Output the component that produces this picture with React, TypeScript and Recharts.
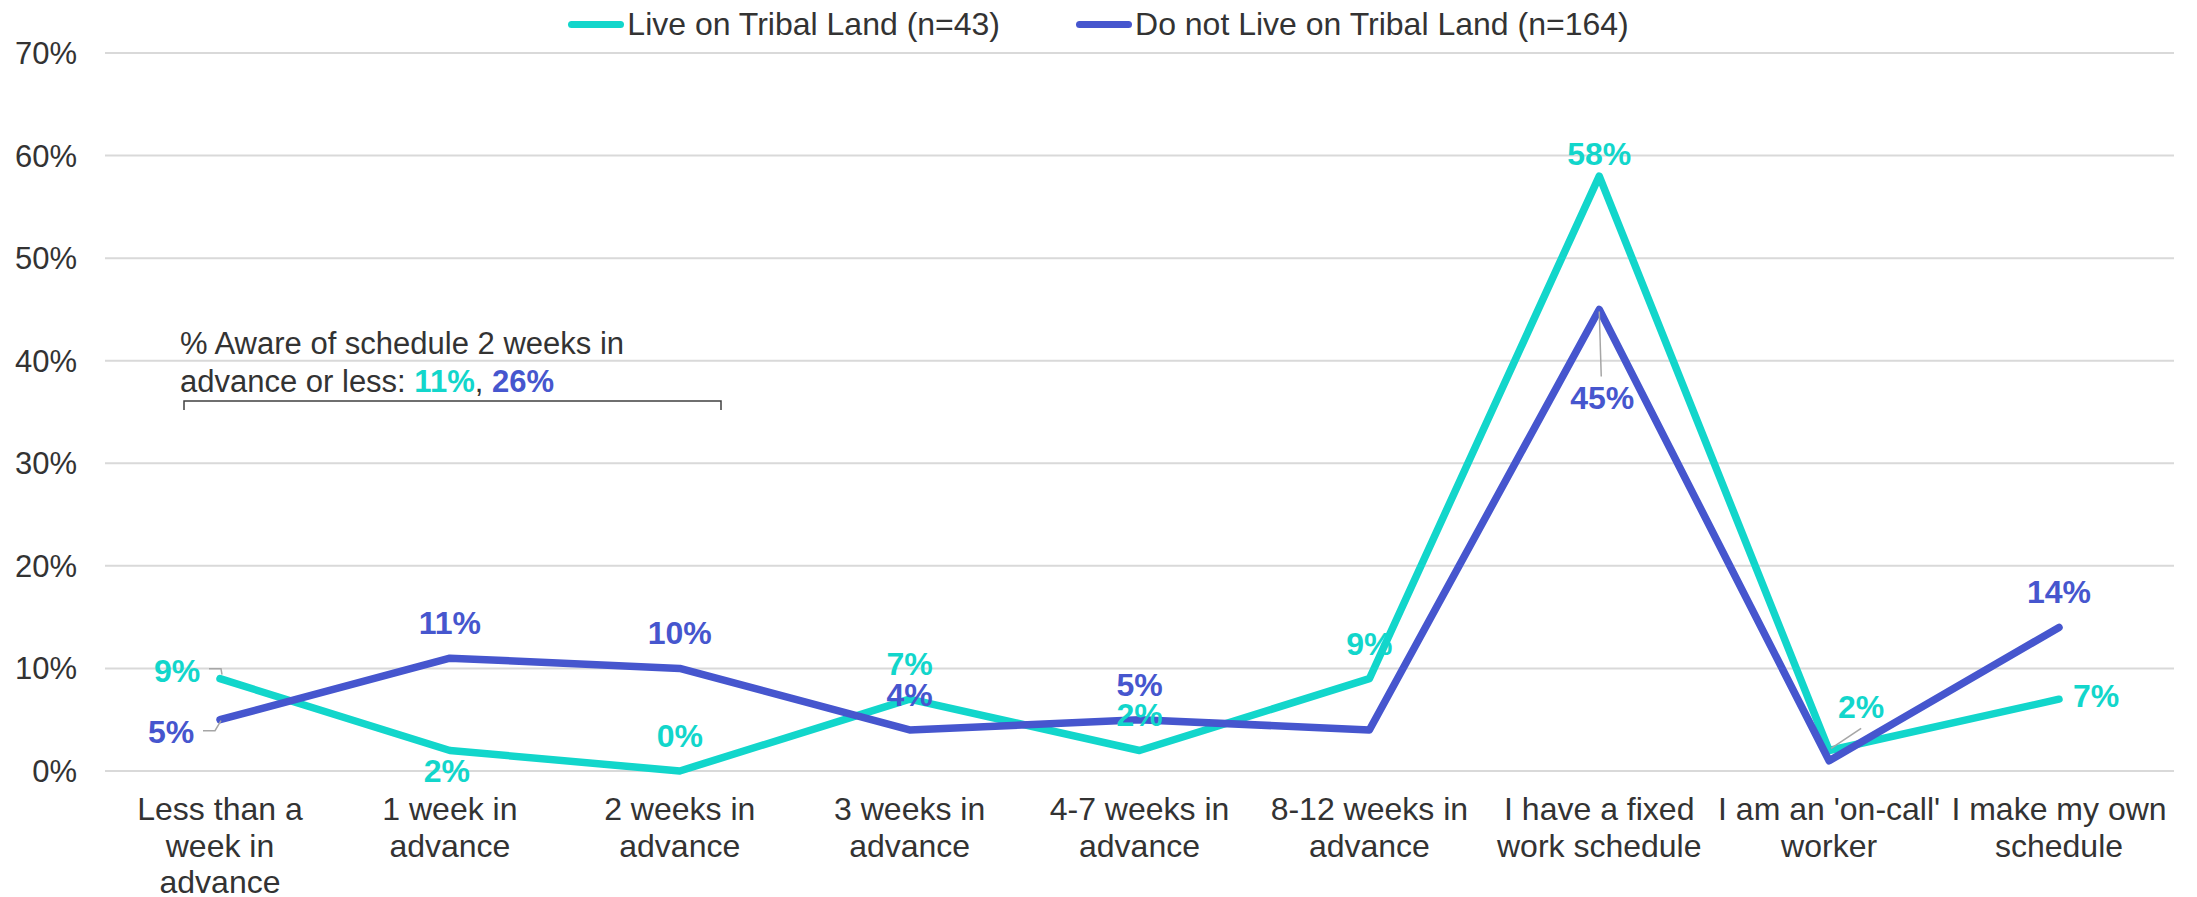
import React from 'react';
import { LineChart, Line, XAxis, YAxis, CartesianGrid, LabelList, Customized } from 'recharts';

const categories = [
  'Less than a\nweek in\nadvance',
  '1 week in\nadvance',
  '2 weeks in\nadvance',
  '3 weeks in\nadvance',
  '4-7 weeks in\nadvance',
  '8-12 weeks in\nadvance',
  'I have a fixed\nwork schedule',
  "I am an 'on-call'\nworker",
  'I make my own\nschedule',
];
const liveOnTribal = [9, 2, 0, 7, 2, 9, 58, 2, 7];
const notOnTribal = [5, 11, 10, 4, 5, 4, 45, 1, 14];
const yTicks = [0, 10, 20, 30, 40, 50, 60, 70];

const seriesNames = ['Live on Tribal Land (n=43)', 'Do not Live on Tribal Land (n=164)'];
const TEAL = '#12d6cb';
const BLUE = '#4656ce';
const TEXT = '#333333';
const FONT = '"Liberation Sans", Arial, sans-serif';

// where each data label sits relative to its point
const liveLabelPos = ['left', 'below', 'above', 'above', 'above', 'above', 'peak', 'upright', 'right'];
const notLabelPos = ['leftdown', 'above', 'above', 'above', 'above', null, 'belowleader', null, 'above'];

const data = categories.map((c, i) => ({
  name: c,
  live: liveOnTribal[i],
  notLive: notOnTribal[i],
}));

const placements: Record<string, { dx: number; dy: number; leader?: number[][] }> = {
  above: { dx: 0, dy: -35 },
  below: { dx: -3, dy: 21 },
  peak: { dx: 0, dy: -22 },
  left: { dx: -43, dy: -8, leader: [[-11, -10], [1, -10], [2, -4]] },
  leftdown: { dx: -49, dy: 12, leader: [[-17, 11], [-5, 11], [1, 1]] },
  upright: { dx: 32, dy: -43, leader: [[2, -2], [32, -22]] },
  right: { dx: 37, dy: -3 },
  belowleader: { dx: 3, dy: 89, leader: [[0, 2], [2, 67]] },
};

const makeLabel = (positions: (string | null)[], color: string) => (props: any) => {
  const { x, y, value, index } = props;
  const pos = positions[index];
  if (!pos) return null;
  const p = placements[pos];
  return (
    <g>
      {p.leader && (
        <polyline
          points={p.leader.map(([a, b]) => `${x + a},${y + b}`).join(' ')}
          fill="none"
          stroke="#a6a6a6"
          strokeWidth={1.5}
        />
      )}
      <text
        x={x + p.dx}
        y={y + p.dy}
        textAnchor="middle"
        dominantBaseline="central"
        fill={color}
        fontSize={32}
        fontWeight="bold"
        fontFamily={FONT}
      >
        {value}%
      </text>
    </g>
  );
};

const CategoryTick = (props: any) => {
  const { x, y, payload } = props;
  const lines = String(payload.value).split('\n');
  return (
    <text x={x} y={y} textAnchor="middle" fill={TEXT} fontSize={32} fontFamily={FONT}>
      {lines.map((l, i) => (
        <tspan key={i} x={x} dy={i === 0 ? 41 : 36.5}>
          {l}
        </tspan>
      ))}
    </text>
  );
};

const Annotation = () => (
  <g fontFamily={FONT} fontSize={31} fill={TEXT}>
    <text x={180} y={354}>% Aware of schedule 2 weeks in</text>
    <text x={180} y={392}>
      advance or less: <tspan fill={TEAL} fontWeight="bold">11%</tspan>,{' '}
      <tspan fill={BLUE} fontWeight="bold">26%</tspan>
    </text>
    <polyline points="184,410 184,401 721,401 721,410" fill="none" stroke="#404040" strokeWidth={1.5} />
  </g>
);

export default function App() {
  return (
    <div style={{ position: 'relative', width: 2197, height: 897, background: '#fff' }}>
      <style>{'body{margin:0}'}</style>
      <div
        style={{
          position: 'absolute',
          top: 0,
          left: 0,
          width: 2197,
          height: 48,
          display: 'flex',
          justifyContent: 'center',
          alignItems: 'center',
          gap: 76,
          fontFamily: FONT,
          fontSize: 32,
          color: TEXT,
          zIndex: 2,
        }}
      >
        {[TEAL, BLUE].map((c, i) => (
          <div key={i} style={{ display: 'flex', alignItems: 'center' }}>
            <div style={{ width: 56, height: 7, borderRadius: 4, background: c, marginRight: 3 }} />
            <span>{seriesNames[i]}</span>
          </div>
        ))}
      </div>
      <LineChart width={2197} height={897} data={data} margin={{ top: 53, right: 23, left: 0, bottom: 0 }}>
        <CartesianGrid vertical={false} stroke="#d9d9d9" strokeWidth={2} />
        <XAxis
          dataKey="name"
          axisLine={false}
          tickLine={false}
          height={126}
          interval={0}
          padding={{ left: 115, right: 115 }}
          tick={<CategoryTick />}
        />
        <YAxis
          width={105}
          domain={[0, 70]}
          ticks={yTicks}
          axisLine={false}
          tickLine={false}
          tickMargin={22}
          tickFormatter={(v: number) => `${v}%`}
          tick={{ fill: TEXT, fontSize: 31, fontFamily: FONT }}
        />
        <Customized component={Annotation} />
        <Line
          dataKey="live"
          name={seriesNames[0]}
          stroke={TEAL}
          strokeWidth={7.5}
          strokeLinejoin="round"
          strokeLinecap="round"
          dot={false}
          activeDot={false}
          isAnimationActive={false}
        >
          <LabelList dataKey="live" content={makeLabel(liveLabelPos, TEAL)} />
        </Line>
        <Line
          dataKey="notLive"
          name={seriesNames[1]}
          stroke={BLUE}
          strokeWidth={7.5}
          strokeLinejoin="round"
          strokeLinecap="round"
          dot={false}
          activeDot={false}
          isAnimationActive={false}
        >
          <LabelList dataKey="notLive" content={makeLabel(notLabelPos, BLUE)} />
        </Line>
      </LineChart>
    </div>
  );
}
